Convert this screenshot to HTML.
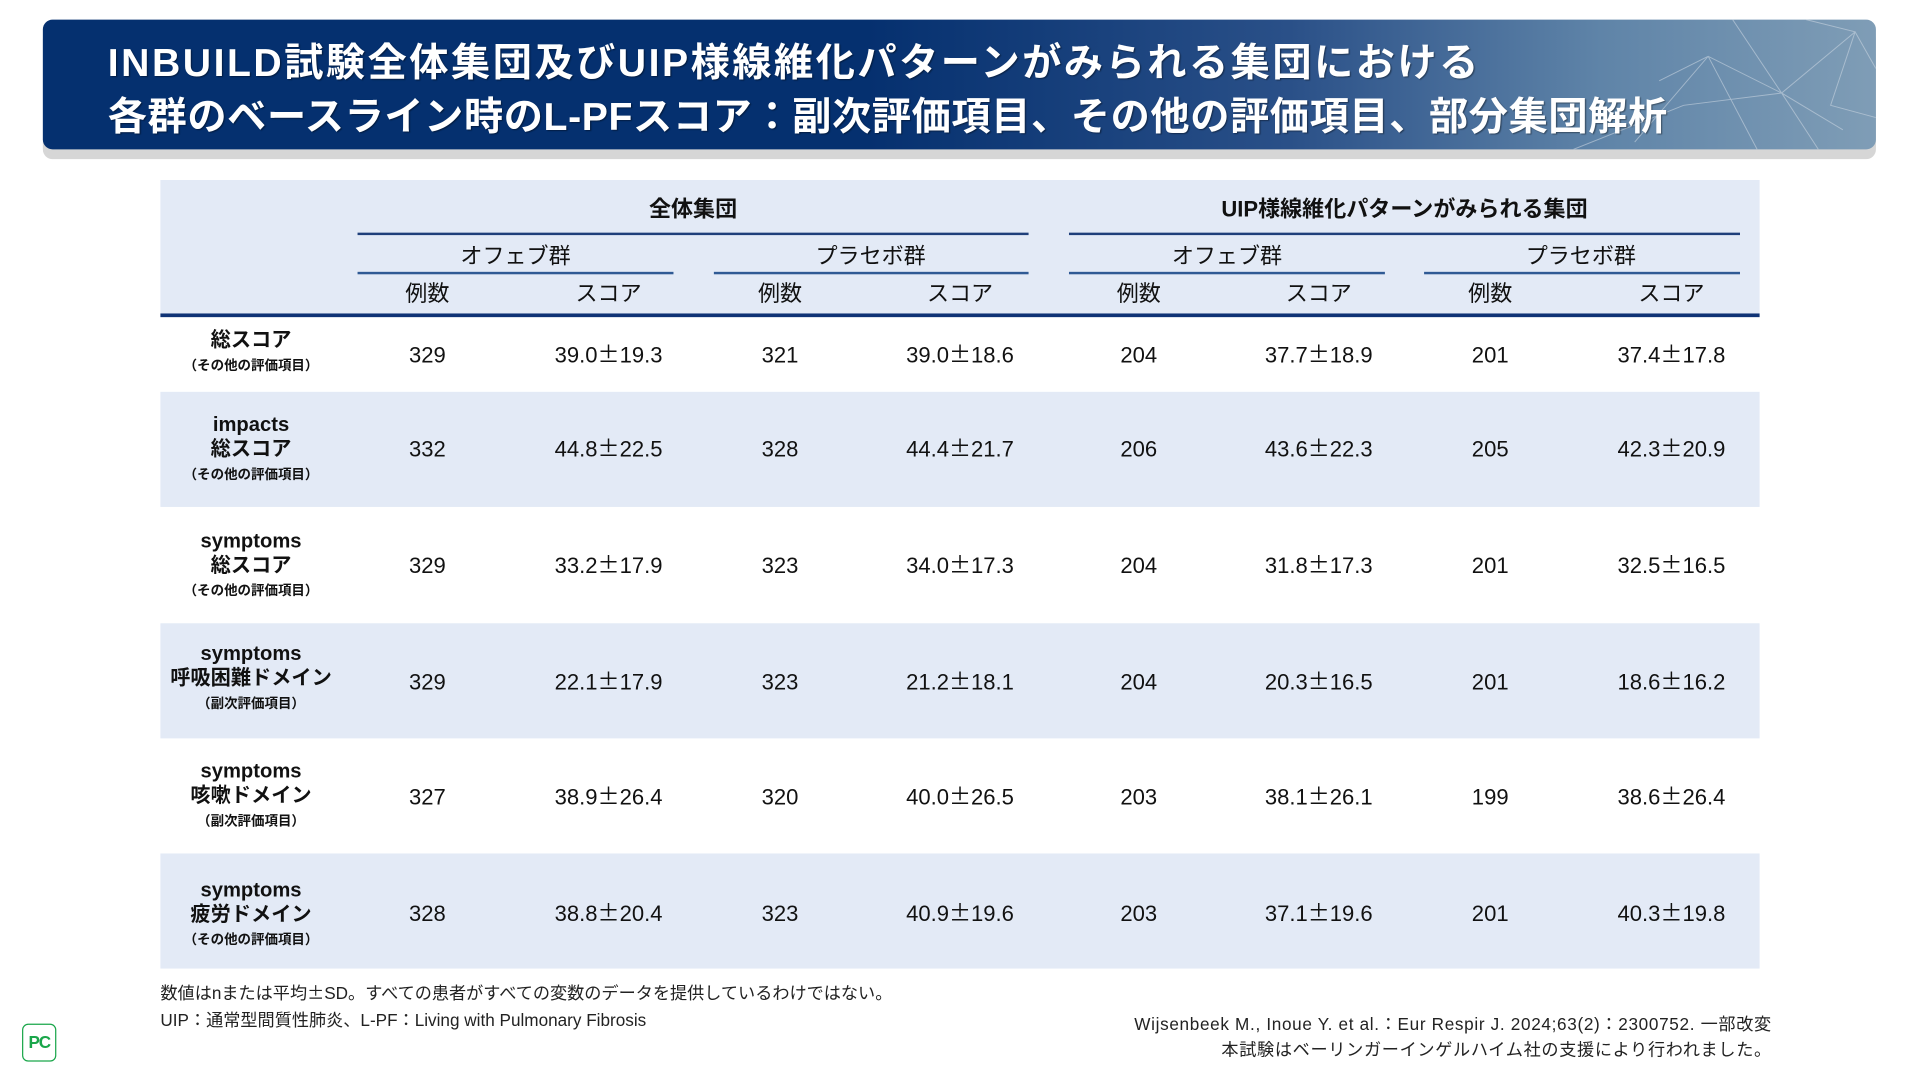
<!DOCTYPE html>
<html><head><meta charset="utf-8"><style>
html,body{margin:0;padding:0;width:1920px;height:1080px;overflow:hidden;background:#fff}
#w{position:absolute;left:0;top:0;width:1568px;height:882px;transform:scale(1.22449);transform-origin:0 0;font-family:"Liberation Sans","Noto Sans CJK JP",sans-serif;color:#111}
.a{position:absolute}
.c{position:absolute;transform:translateX(-50%);white-space:nowrap;text-align:center}
.hl{position:absolute;height:1.5px;background:#1f3f7a}
.num{font-size:18px;line-height:22px}
.pm{font-family:"Noto Sans CJK JP",sans-serif;line-height:0}
.lab{font-weight:bold;font-size:16.5px;line-height:20px}
.lab small{display:block;font-size:11px;line-height:22px}
</style></head><body><div id="w">
<div class="a" style="left:35px;top:24px;width:1497px;height:106px;background:#d6d6d6;border-radius:8px"></div>
<div class="a" style="left:35px;top:16px;width:1497px;height:106px;border-radius:8px;background:linear-gradient(90deg,#05306f 0%,#05306f 45%,#2a5088 68%,#5f84a8 85%,#7f9db6 100%);overflow:hidden">
<svg width="1497" height="106" style="position:absolute;left:0;top:0" stroke="#c8d4e0" stroke-width="0.8" fill="none" opacity="0.6">
<path d="M1300 100 L1360 30 L1420 60 L1480 10 L1497 40 M1360 30 L1400 106 M1420 60 L1450 106 M1340 70 L1420 60 L1470 90 M1380 0 L1420 60 M1440 0 L1480 10 L1460 70 L1497 80 M1320 50 L1360 30 M1250 106 L1340 70"/></svg>
<div class="a" style="left:53px;top:13px;color:#fff;font-weight:bold;font-size:32px;line-height:44px;white-space:nowrap;text-shadow:1px 1px 1px rgba(0,0,0,0.4)"><span style="letter-spacing:2.05px">INBUILD試験全体集団及びUIP様線維化パターンがみられる集団における</span><br><span style="letter-spacing:0.5px">各群のベースライン時のL-PFスコア：副次評価項目、その他の評価項目、部分集団解析</span></div>
</div>
<div class="a" style="left:131px;top:147px;width:1306px;height:110px;background:#e3eaf6"></div>
<div class="a" style="left:131px;top:256px;width:1306px;height:3px;background:#0f3375"></div>
<div class="a" style="left:131px;top:320px;width:1306px;height:94px;background:#e3eaf6"></div>
<div class="a" style="left:131px;top:509px;width:1306px;height:94px;background:#e3eaf6"></div>
<div class="a" style="left:131px;top:697px;width:1306px;height:94px;background:#e3eaf6"></div>
<div class="c" style="left:566px;top:157px;font-weight:bold;font-size:18px">全体集団</div>
<div class="c" style="left:1147px;top:157px;font-weight:bold;font-size:18px">UIP様線維化パターンがみられる集団</div>
<div class="hl" style="left:292px;top:190px;width:548px"></div>
<div class="hl" style="left:873px;top:190px;width:548px"></div>
<div class="c" style="left:421px;top:195px;font-size:18px">オフェブ群</div>
<div class="c" style="left:711px;top:195px;font-size:18px">プラセボ群</div>
<div class="c" style="left:1002px;top:195px;font-size:18px">オフェブ群</div>
<div class="c" style="left:1291px;top:195px;font-size:18px">プラセボ群</div>
<div class="hl" style="left:292px;top:222px;width:258px;background:#2f5a94"></div>
<div class="hl" style="left:583px;top:222px;width:257px;background:#2f5a94"></div>
<div class="hl" style="left:873px;top:222px;width:258px;background:#2f5a94"></div>
<div class="hl" style="left:1163px;top:222px;width:258px;background:#2f5a94"></div>
<div class="c" style="left:349px;top:226px;font-size:18px">例数</div>
<div class="c" style="left:497px;top:226px;font-size:18px">スコア</div>
<div class="c" style="left:637px;top:226px;font-size:18px">例数</div>
<div class="c" style="left:784px;top:226px;font-size:18px">スコア</div>
<div class="c" style="left:930px;top:226px;font-size:18px">例数</div>
<div class="c" style="left:1077px;top:226px;font-size:18px">スコア</div>
<div class="c" style="left:1217px;top:226px;font-size:18px">例数</div>
<div class="c" style="left:1365px;top:226px;font-size:18px">スコア</div>

<div class="c lab" style="left:205px;top:268px">総スコア<small>（その他の評価項目）</small></div>
<div class="c lab" style="left:205px;top:337px">impacts<br>総スコア<small>（その他の評価項目）</small></div>
<div class="c lab" style="left:205px;top:432px">symptoms<br>総スコア<small>（その他の評価項目）</small></div>
<div class="c lab" style="left:205px;top:524px">symptoms<br>呼吸困難ドメイン<small>（副次評価項目）</small></div>
<div class="c lab" style="left:205px;top:620px">symptoms<br>咳嗽ドメイン<small>（副次評価項目）</small></div>
<div class="c lab" style="left:205px;top:717px">symptoms<br>疲労ドメイン<small>（その他の評価項目）</small></div>

<div style="position:absolute;left:0;top:0">
<div class="c num" style="left:349px;top:279px">329</div><div class="c num" style="left:497px;top:279px">39.0<span class="pm">±</span>19.3</div><div class="c num" style="left:637px;top:279px">321</div><div class="c num" style="left:784px;top:279px">39.0<span class="pm">±</span>18.6</div><div class="c num" style="left:930px;top:279px">204</div><div class="c num" style="left:1077px;top:279px">37.7<span class="pm">±</span>18.9</div><div class="c num" style="left:1217px;top:279px">201</div><div class="c num" style="left:1365px;top:279px">37.4<span class="pm">±</span>17.8</div>
<div class="c num" style="left:349px;top:356px">332</div><div class="c num" style="left:497px;top:356px">44.8<span class="pm">±</span>22.5</div><div class="c num" style="left:637px;top:356px">328</div><div class="c num" style="left:784px;top:356px">44.4<span class="pm">±</span>21.7</div><div class="c num" style="left:930px;top:356px">206</div><div class="c num" style="left:1077px;top:356px">43.6<span class="pm">±</span>22.3</div><div class="c num" style="left:1217px;top:356px">205</div><div class="c num" style="left:1365px;top:356px">42.3<span class="pm">±</span>20.9</div>
<div class="c num" style="left:349px;top:451px">329</div><div class="c num" style="left:497px;top:451px">33.2<span class="pm">±</span>17.9</div><div class="c num" style="left:637px;top:451px">323</div><div class="c num" style="left:784px;top:451px">34.0<span class="pm">±</span>17.3</div><div class="c num" style="left:930px;top:451px">204</div><div class="c num" style="left:1077px;top:451px">31.8<span class="pm">±</span>17.3</div><div class="c num" style="left:1217px;top:451px">201</div><div class="c num" style="left:1365px;top:451px">32.5<span class="pm">±</span>16.5</div>
<div class="c num" style="left:349px;top:546px">329</div><div class="c num" style="left:497px;top:546px">22.1<span class="pm">±</span>17.9</div><div class="c num" style="left:637px;top:546px">323</div><div class="c num" style="left:784px;top:546px">21.2<span class="pm">±</span>18.1</div><div class="c num" style="left:930px;top:546px">204</div><div class="c num" style="left:1077px;top:546px">20.3<span class="pm">±</span>16.5</div><div class="c num" style="left:1217px;top:546px">201</div><div class="c num" style="left:1365px;top:546px">18.6<span class="pm">±</span>16.2</div>
<div class="c num" style="left:349px;top:640px">327</div><div class="c num" style="left:497px;top:640px">38.9<span class="pm">±</span>26.4</div><div class="c num" style="left:637px;top:640px">320</div><div class="c num" style="left:784px;top:640px">40.0<span class="pm">±</span>26.5</div><div class="c num" style="left:930px;top:640px">203</div><div class="c num" style="left:1077px;top:640px">38.1<span class="pm">±</span>26.1</div><div class="c num" style="left:1217px;top:640px">199</div><div class="c num" style="left:1365px;top:640px">38.6<span class="pm">±</span>26.4</div>
<div class="c num" style="left:349px;top:735px">328</div><div class="c num" style="left:497px;top:735px">38.8<span class="pm">±</span>20.4</div><div class="c num" style="left:637px;top:735px">323</div><div class="c num" style="left:784px;top:735px">40.9<span class="pm">±</span>19.6</div><div class="c num" style="left:930px;top:735px">203</div><div class="c num" style="left:1077px;top:735px">37.1<span class="pm">±</span>19.6</div><div class="c num" style="left:1217px;top:735px">201</div><div class="c num" style="left:1365px;top:735px">40.3<span class="pm">±</span>19.8</div>
</div>

<div class="a" style="left:131px;top:800px;font-size:14px;line-height:22px;color:#222;white-space:nowrap">数値はnまたは平均<span class="pm">±</span>SD。すべての患者がすべての変数のデータを提供しているわけではない。<br>UIP：通常型間質性肺炎、L-PF：Living with Pulmonary Fibrosis</div>
<div class="a" style="right:121px;top:826px;font-size:14px;line-height:21px;color:#222;text-align:right;white-space:nowrap;letter-spacing:0.55px">Wijsenbeek M., Inoue Y. et al.：Eur Respir J. 2024;63(2)：2300752. 一部改変<br>本試験はベーリンガーインゲルハイム社の支援により行われました。</div>
<div class="a" style="left:18px;top:836px;width:26px;height:29px;border:1.5px solid #1aa64a;border-radius:5px;color:#1aa64a;font-weight:bold;font-size:14px;line-height:29px;text-align:center;letter-spacing:-1px">PC</div>
</div></body></html>
